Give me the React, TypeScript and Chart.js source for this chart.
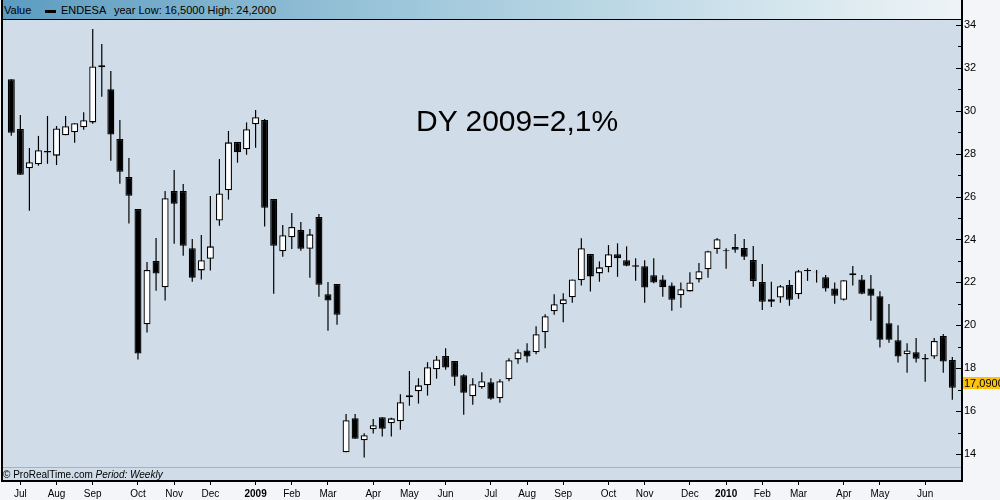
import React, { useEffect, useRef } from "react";
import { Chart, registerables } from "chart.js";

Chart.register(...registerables);

// Weekly ENDESA candles, Jul 2008 - Jun 2010
const opens = [
  31.47, 29.15, 27.32, 27.51, 28.13, 27.91, 28.86, 29.0, 29.23, 29.46,
  32.12, 31.0, 28.69, 26.91, 25.42, 20.05, 23.0, 21.77, 26.26, 26.26,
  23.59, 22.56, 23.1, 24.88, 26.29, 28.55, 28.21, 29.37, 29.57, 25.89,
  23.45, 24.1, 24.44, 23.57, 25.05, 21.45, 21.93, 14.08, 15.66, 14.64,
  15.15, 15.71, 15.43, 15.52, 16.64, 16.92, 17.2, 17.95, 18.57, 18.34,
  17.67, 16.69, 17.11, 17.34, 16.6, 17.48, 18.41, 18.83, 18.74, 19.67,
  20.65, 20.98, 21.31, 22.1, 23.32, 22.42, 22.7, 23.31, 23.03, 22.8,
  22.75, 22.33, 22.14, 21.86, 21.4, 21.58, 22.14, 22.61, 23.56, 23.5,
  23.65, 23.6, 23.04, 22.02, 21.1, 21.29, 21.88, 21.45, 22.58, 22.5,
  22.24, 21.72, 21.19, 22.33, 22.14, 21.72, 21.35, 20.09, 19.3, 18.65,
  18.74, 18.48, 18.54, 19.5, 18.38,
];
const highs = [
  31.47, 29.8, 28.27, 28.83, 29.76, 29.29, 29.76, 29.42, 29.93, 33.81,
  33.11, 31.86, 29.57, 27.8, 25.42, 22.95, 24.07, 26.26, 27.24, 26.59,
  24.02, 24.21, 26.03, 27.75, 29.06, 28.55, 29.46, 30.04, 29.62, 25.89,
  24.68, 25.24, 24.82, 24.49, 25.19, 22.02, 21.93, 15.86, 15.86, 14.97,
  15.63, 15.71, 15.69, 16.78, 17.87, 17.53, 18.28, 18.57, 18.93, 18.34,
  17.72, 17.53, 17.81, 17.53, 17.48, 18.46, 18.88, 19.16, 19.95, 20.51,
  21.45, 21.49, 22.14, 24.06, 23.32, 22.98, 23.74, 23.82, 23.68, 23.12,
  23.03, 23.12, 22.33, 22.0, 22.0, 22.47, 22.9, 23.48, 24.07, 23.59,
  24.26, 24.02, 23.7, 22.86, 22.03, 21.88, 22.11, 22.58, 22.66, 22.58,
  22.35, 22.0, 22.1, 22.76, 22.35, 22.35, 21.59, 20.99, 20.0, 19.16,
  19.41, 18.66, 19.41, 19.59, 18.52,
];
const lows = [
  28.84, 27.02, 25.34, 27.44, 27.53, 27.47, 28.86, 28.51, 29.12, 29.4,
  30.66, 27.67, 26.6, 24.74, 18.41, 19.66, 21.61, 21.15, 23.8, 23.24,
  22.03, 22.13, 22.55, 24.64, 25.86, 27.58, 27.95, 28.28, 24.6, 21.47,
  23.2, 23.56, 23.48, 22.22, 21.33, 19.75, 20.03, 14.08, 14.71, 13.83,
  14.95, 14.81, 14.81, 15.13, 16.25, 16.35, 16.72, 17.51, 17.93, 17.18,
  15.83, 16.3, 17.04, 16.53, 16.39, 17.39, 18.21, 18.26, 18.65, 18.93,
  20.49, 20.14, 21.05, 21.85, 21.57, 22.03, 22.47, 22.26, 22.75, 22.08,
  21.05, 21.96, 21.33, 20.68, 20.82, 21.58, 21.99, 22.22, 23.34, 22.64,
  23.38, 23.04, 21.8, 20.71, 20.85, 21.05, 20.91, 21.23, 22.07, 21.99,
  21.57, 21.0, 21.15, 21.85, 21.45, 20.21, 18.96, 19.19, 18.26, 17.79,
  18.26, 17.37, 18.44, 17.79, 16.53,
];
const closes = [
  28.98, 27.02, 27.6, 28.16, 28.05, 29.18, 29.28, 29.42, 29.56, 32.07,
  32.03, 28.89, 27.16, 26.04, 18.68, 22.58, 22.41, 25.92, 25.67, 23.71,
  22.22, 23.03, 23.68, 26.15, 28.53, 28.07, 29.14, 29.7, 25.48, 23.71,
  24.2, 24.58, 23.57, 24.24, 21.89, 21.15, 20.49, 15.57, 14.71, 14.87,
  15.34, 15.18, 15.66, 16.41, 16.74, 17.2, 18.04, 18.41, 18.03, 17.6,
  16.86, 17.25, 17.39, 16.58, 17.39, 18.37, 18.74, 18.54, 19.58, 20.42,
  20.98, 21.21, 22.14, 23.59, 22.28, 22.7, 23.31, 23.12, 22.78, 22.73,
  21.76, 21.99, 21.77, 21.19, 21.68, 22.0, 22.52, 23.45, 24.01, 23.45,
  23.52, 23.2, 22.07, 21.1, 21.21, 21.82, 21.19, 22.52, 22.52, 22.47,
  21.71, 21.38, 22.1, 22.43, 21.47, 21.38, 19.33, 19.33, 18.54, 18.83,
  18.44, 18.4, 19.27, 18.31, 17.09,
];

const monthLabels = [
  "Jul", "Aug", "Sep", "Oct", "Nov", "Dec", "2009", "Feb", "Mar", "Apr", "May", "Jun",
  "Jul", "Aug", "Sep", "Oct", "Nov", "Dec", "2010", "Feb", "Mar", "Apr", "May", "Jun",
];
const monthIndex = [1, 5, 9, 14, 18, 22, 27, 31, 35, 40, 44, 48, 53, 57, 61, 66, 70, 75, 79, 83, 87, 92, 96, 101];
const yTicks = [14, 16, 18, 20, 22, 24, 26, 28, 30, 32, 34];
const yMinorTicks = [15, 17, 19, 21, 23, 25, 27, 29, 31, 33];
const lastPriceLabel = "17,0900";

const FONT = "'Liberation Sans', Arial, sans-serif";

export default function App() {
  const ref = useRef<HTMLCanvasElement>(null);

  useEffect(() => {
    const canvas = ref.current!;
    const framePlugin = {
      id: "frame",
      beforeDraw(chart: any) {
        const { ctx, chartArea: a, width, height } = chart;
        ctx.save();
        ctx.fillStyle = "#f3f5f8";
        ctx.fillRect(0, 0, width, height);
        ctx.fillStyle = "#d0dde8";
        ctx.fillRect(a.left, a.top, a.right - a.left, a.bottom - a.top);
        ctx.fillStyle = "#a7b2bd";
        ctx.fillRect(a.left, a.bottom - 14, a.right - a.left, 1);
        ctx.restore();
      },
      afterDraw(chart: any) {
        const { ctx, chartArea: a } = chart;
        const ys = chart.scales.y;
        ctx.save();
        ctx.fillStyle = "#000";
        for (const v of yTicks) {
          const y = Math.round(ys.getPixelForValue(v));
          ctx.fillRect(a.right - 6, y, 6, 1);
        }
        for (const v of yMinorTicks) {
          const y = Math.round(ys.getPixelForValue(v));
          ctx.fillRect(a.right - 4, y, 4, 1);
        }
        // frame
        ctx.fillRect(a.left, a.top, 2, a.bottom - a.top + 1);
        ctx.fillRect(a.right - 1, 0, 2, a.bottom + 1);
        ctx.fillRect(a.left, a.bottom - 1, a.right - a.left + 1, 2);
        ctx.fillRect(a.left, a.top, a.right - a.left, 1);
        // last price box
        const py = Math.round(ys.getPixelForValue(closes[closes.length - 1])) - 5;
        ctx.fillStyle = "#fcc20c";
        ctx.fillRect(a.right + 1, py - 6, chart.width - a.right - 1, 12);
        ctx.fillStyle = "#000";
        ctx.font = `11px ${FONT}`;
        ctx.textBaseline = "middle";
        ctx.textAlign = "left";
        ctx.fillText(lastPriceLabel, a.right + 2, py + 0.5);
        ctx.restore();
      },
    };

    const chart = new Chart(canvas, {
      type: "bar",
      data: {
        datasets: [
          {
            label: "wick",
            data: highs.map((h, i) => ({ x: i, y: [lows[i], h] })) as any,
            backgroundColor: "#000",
            borderWidth: 0,
            barThickness: 1.2,
            inflateAmount: 0,
            grouped: false,
            order: 2,
          } as any,
          {
            label: "ENDESA",
            data: opens.map((o, i) => ({ x: i, y: [o, closes[i]] })) as any,
            backgroundColor: opens.map((o, i) => (closes[i] >= o ? "#ffffff" : "#000000")),
            borderColor: "#000",
            borderWidth: 1.3,
            borderSkipped: false,
            barThickness: 7,
            inflateAmount: 0,
            grouped: false,
            order: 1,
          } as any,
        ],
      },
      options: {
        responsive: false,
        animation: false,
        events: [],
        layout: { padding: { top: 19, left: 1, right: 0, bottom: 0 } },
        plugins: {
          legend: { display: false },
          tooltip: { enabled: false },
          title: { display: false },
        },
        scales: {
          x: {
            type: "linear",
            offset: false,
            min: -1.138,
            max: 105.07,
            position: "bottom",
            afterFit: (s: any) => {
              s.height = 19;
            },
            afterBuildTicks: (s: any) => {
              s.ticks = monthIndex.map((v) => ({ value: v }));
            },
            grid: {
              display: true,
              offset: false,
              drawOnChartArea: false,
              drawTicks: true,
              tickLength: 4,
              color: "#000",
              lineWidth: 1,
            },
            border: { display: false },
            ticks: {
              autoSkip: false,
              maxRotation: 0,
              padding: 3,
              color: "#000",
              font: (c: any) => ({
                family: FONT,
                size: 10,
                weight: /^\d{4}$/.test(monthLabels[c.index] ?? "") ? "bold" : "normal",
              }),
              callback: (_v: any, i: number) => monthLabels[i],
            },
          },
          y: {
            type: "linear",
            position: "right",
            min: 12.74,
            max: 34.28,
            afterFit: (s: any) => {
              s.width = 38;
            },
            afterBuildTicks: (s: any) => {
              s.ticks = yTicks.map((v) => ({ value: v }));
            },
            grid: { display: false, drawTicks: false },
            border: { display: false },
            ticks: {
              padding: 2,
              color: "#000",
              font: { family: FONT, size: 11 },
              callback: (v: any) => String(v),
            },
          },
        },
      } as any,
      plugins: [framePlugin],
    });
    return () => chart.destroy();
  }, []);

  return (
    <div style={{ position: "absolute", left: 0, top: 0, width: 1000, height: 500, overflow: "hidden" }}>
      <canvas ref={ref} width={1000} height={500} style={{ position: "absolute", left: 0, top: 0 }} />
      <div
        style={{
          position: "absolute",
          left: 1,
          top: 0,
          width: 962,
          height: 20,
          boxSizing: "border-box",
          borderLeft: "2px solid #000",
          borderRight: "2px solid #000",
          borderBottom: "1px solid #000",
          background: "linear-gradient(to right, #5c9cc0 0%, #a2c9dc 45%, #eef4f6 100%)",
          fontFamily: FONT,
          fontSize: 11,
          color: "#000",
        }}
      >
        <span style={{ position: "absolute", left: 1, top: 4, lineHeight: "13px" }}>Value</span>
        <span style={{ position: "absolute", left: 42, top: 10, width: 11, height: 3, background: "#000" }} />
        <span style={{ position: "absolute", left: 58, top: 4, lineHeight: "13px" }}>ENDESA</span>
        <span style={{ position: "absolute", left: 111, top: 4, lineHeight: "13px" }}>year Low: 16,5000 High: 24,2000</span>
      </div>
      <div
        style={{
          position: "absolute",
          left: 416,
          top: 106,
          fontFamily: FONT,
          fontSize: 30,
          lineHeight: "30px",
          color: "#000",
          whiteSpace: "nowrap",
        }}
      >
        DY 2009=2,1%
      </div>
      <div
        style={{
          position: "absolute",
          left: 3,
          top: 469,
          fontFamily: FONT,
          fontSize: 10,
          lineHeight: "12px",
          color: "#000",
          whiteSpace: "nowrap",
        }}
      >
        © ProRealTime.com <i>Period: Weekly</i>
      </div>
    </div>
  );
}
